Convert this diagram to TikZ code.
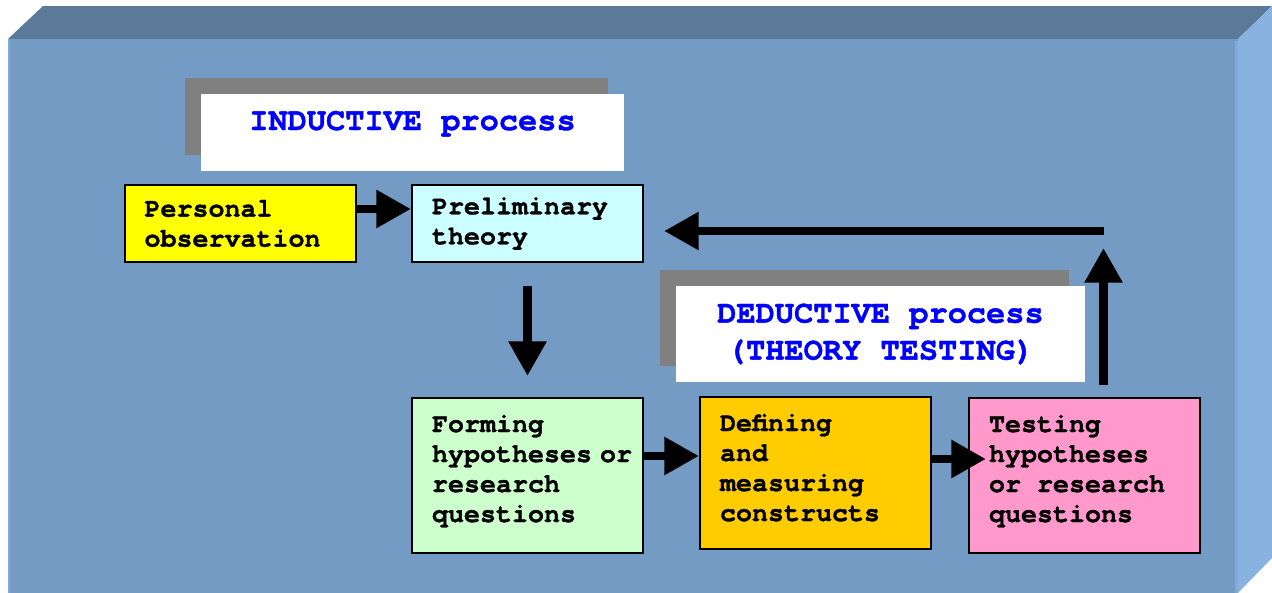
\documentclass[tikz,border=0pt]{standalone}
\usepackage{fontspec}
\newfontfamily\cour{texgyrecursor}[Extension=.otf, UprightFont=*-regular, BoldFont=*-bold, BoldFeatures={FakeBold=1.2}]
\usetikzlibrary{arrows.meta,calc,shadows}
\definecolor{frontc}{HTML}{749BC4}
\definecolor{topc}{HTML}{5B7A99}
\definecolor{sidec}{HTML}{88B3E0}
\definecolor{edgec}{HTML}{84AAD6}
\definecolor{shadowc}{HTML}{808080}
\definecolor{titleblue}{HTML}{0000FF}
\definecolor{cYellow}{HTML}{FFFF00}
\definecolor{cCyan}{HTML}{CCFFFF}
\definecolor{cGreen}{HTML}{CCFFCC}
\definecolor{cGold}{HTML}{FFCC00}
\definecolor{cPink}{HTML}{FF99CC}
\newcommand{\msp}{\hspace{0.6em}}
\begin{document}
\begin{tikzpicture}[x=0.75pt,y=-0.75pt,
  stepbox/.style={draw=black, line width=1.5pt, rectangle, inner xsep=15pt, inner ysep=0pt,
    text width=143.25pt, align=left, font=\cour\bfseries\fontsize{20}{22.5}\selectfont},
  tallbox/.style={stepbox, text height=15pt, text depth=#1},
  titlebox/.style={fill=white, rectangle, inner sep=0pt, text=titleblue,
    font=\cour\bfseries\fontsize{24}{27.75}\selectfont,
    general shadow={fill=shadowc, shadow xshift=-12pt, shadow yshift=12pt}},
  arr/.style={line width=6.5pt, -{Triangle[length=26pt,width=27pt]}}]
\useasboundingbox (0,0) rectangle (1272,593);
% 3D block
\fill[topc] (8,39) -- (43,6) -- (1272,6) -- (1238,39) -- cycle;
\fill[sidec] (1238,39) -- (1272,6) -- (1272,558) -- (1238,593) -- cycle;
\fill[frontc] (8,39) rectangle (1238,593);
\fill[edgec] (8,39) rectangle (10,593);
\fill[edgec] (1235,41) rectangle (1238,593);
% titles
\node[titlebox, minimum width=317.25pt, text height=27pt, text depth=30.75pt, align=center]
  (ind) at (412.5,132.5) {INDUCTIVE process};
\node[titlebox, minimum width=306.75pt, minimum height=72pt, align=center]
  (ded) at (880.5,334) {DEDUCTIVE process\\(THEORY TESTING)};
% boxes
\node[stepbox, fill=cYellow, minimum height=57.75pt] (pers) at (240,223.5) {Personal\\observation};
\node[stepbox, fill=cCyan, minimum height=57.75pt] (prel) at (527.5,223.5) {Preliminary\\theory};
\node[tallbox=80.25pt, fill=cGreen, minimum height=116.25pt] (form) at (527.5,475.5) {Forming\\\mbox{hypotheses\hspace{0.3em}or}\\research\\questions};
\node[tallbox=78pt, fill=cGold, minimum height=114pt] (def) at (815.5,473) {Defining\\and\\measuring\\constructs};
\node[tallbox=80.25pt, fill=cPink, minimum height=116.25pt] (test) at (1084.5,475.5) {Testing\\hypotheses\\\mbox{or\msp research}\\questions};
% connectors
\coordinate (turn) at (1103.5,231);
\coordinate (uptip) at (1103.5,248);
\draw[arr] ($(pers.east)+(0,-14.5)$) -- ($(prel.west)+(0,-14.5)$);
\draw[arr] ($(prel.south)+(0,23)$) -- ($(form.north)+(0,-21)$);
\draw[arr] ($(form.east)+(0,-19.5)$) -- ($(def.west)+(0,-17)$);
\draw[arr] ($(def.east)+(0,-14)$) -- ($(test.west)+(18,-16.5)$);
\draw[arr] ($(test.north)+(19,-12)$) -- (uptip);
\draw[arr] (turn) -- ($(prel.east)+(20,7.5)$);
\end{tikzpicture}
\end{document}
